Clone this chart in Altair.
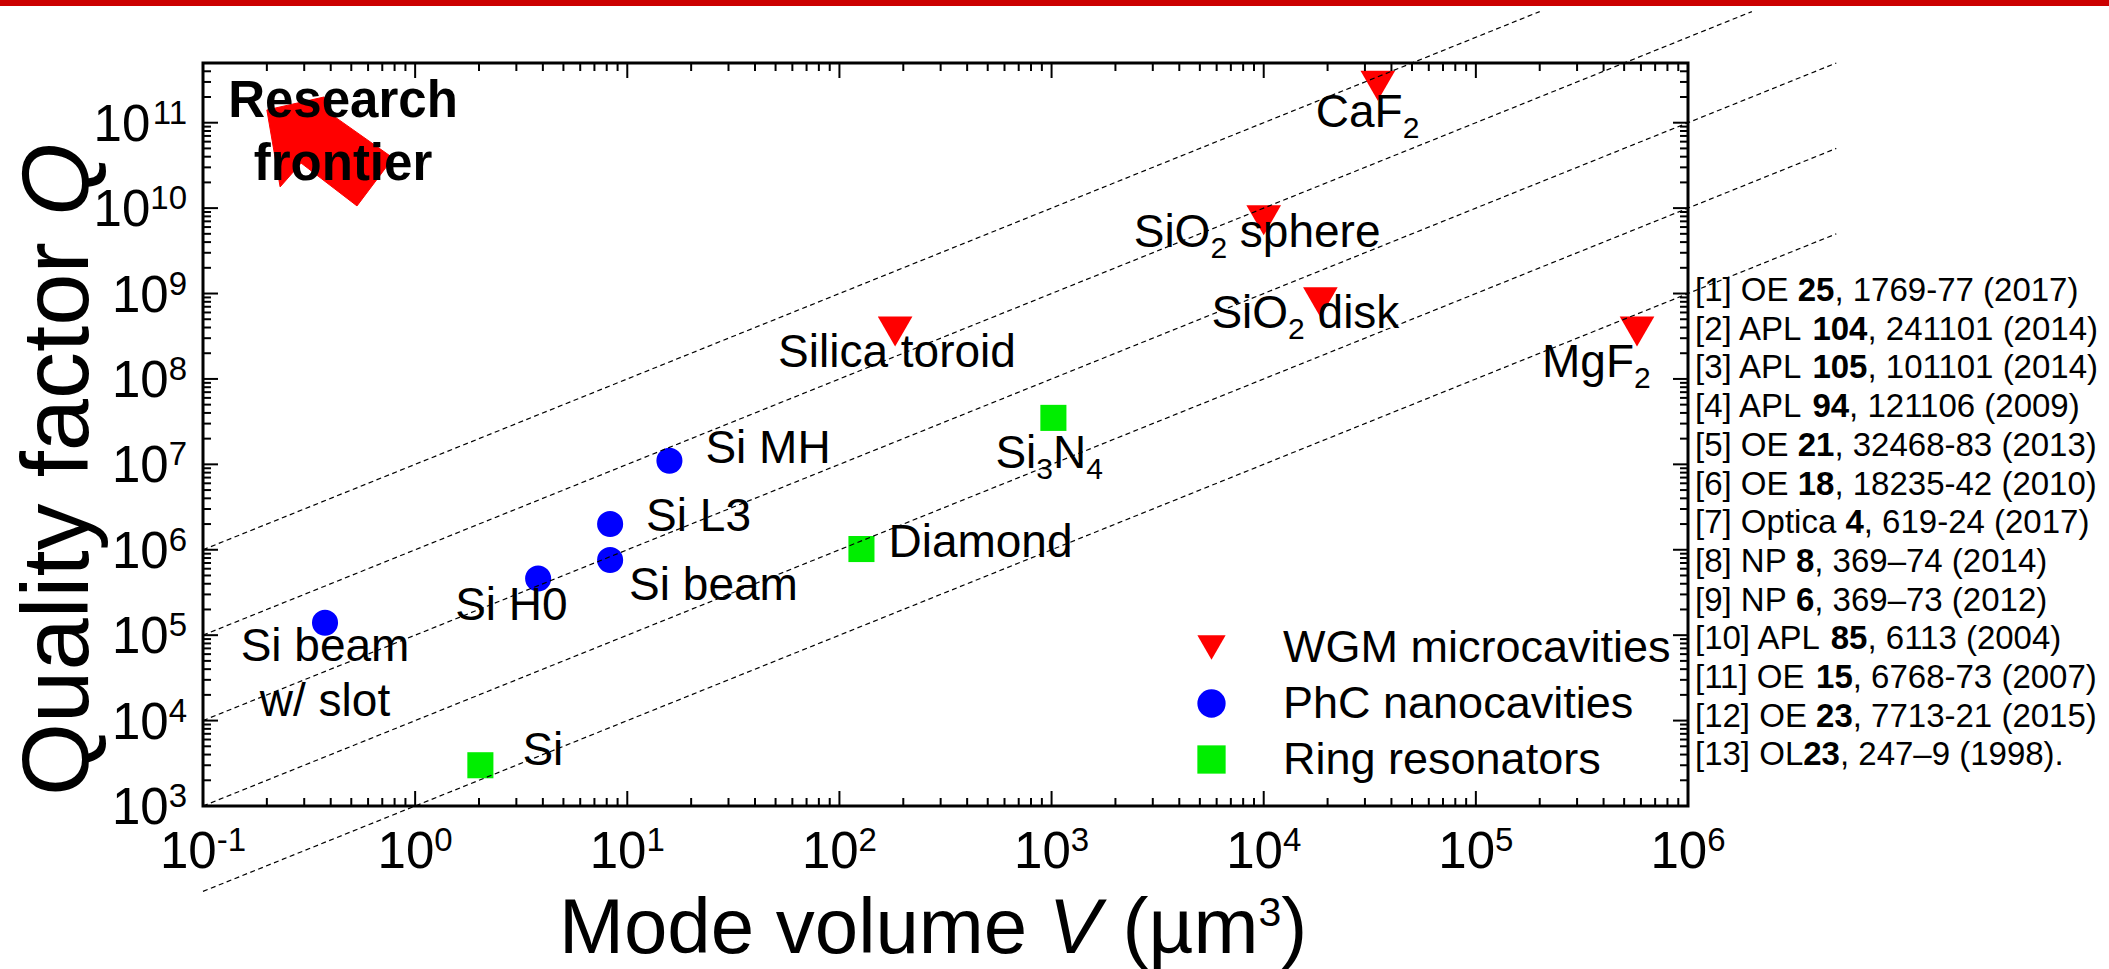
import altair as alt
import pandas as pd

FONT = "Liberation Sans"

# ---------------- data ----------------
category_names = ["WGM microcavities", "PhC nanocavities", "Ring resonators"]

wgm_names = ["CaF2", "SiO2 sphere", "SiO2 disk", "Silica toroid", "MgF2"]
wgm_volume = [3.45e4, 1.0e4, 1.85e4, 183.0, 5.75e5]
wgm_q = [2.7e11, 7.2e9, 7.9e8, 3.6e8, 3.6e8]

phc_names = ["Si MH", "Si L3", "Si beam", "Si H0", "Si beam w/ slot"]
phc_volume = [15.8, 8.3, 8.3, 3.8, 0.376]
phc_q = [1.1e7, 2.0e6, 7.6e5, 4.6e5, 1.4e5]

ring_names = ["Si3N4", "Diamond", "Si"]
ring_volume = [1020.0, 127.0, 2.03]
ring_q = [3.5e7, 1.02e6, 3.0e3]

# guide lines of constant Q/V (um^-3)
qv_ratios = [1e7, 1e6, 1e5, 1e4, 1e3]
guide_v_start = 0.1
guide_v_stop = 5e6
guide_q_stop = 2e12

# outline of the "research frontier" arrow (V, Q)
arrow_v = [0.200, 0.372, 0.401, 0.787, 0.532, 0.290, 0.231]
arrow_q = [1.41e11, 2.0e11, 1.26e11, 3.86e10, 1.06e10, 3.37e10, 1.77e10]

references = [
    ("[1] OE ", "25", ", 1769-77 (2017)"),
    ("[2] APL ", "104", ", 241101 (2014)"),
    ("[3] APL ", "105", ", 101101 (2014)"),
    ("[4] APL ", "94", ", 121106 (2009)"),
    ("[5] OE ", "21", ", 32468-83 (2013)"),
    ("[6] OE ", "18", ", 18235-42 (2010)"),
    ("[7] Optica ", "4", ", 619-24 (2017)"),
    ("[8] NP ", "8", ", 369\u201374 (2014)"),
    ("[9] NP ", "6", ", 369\u201373 (2012)"),
    ("[10] APL ", "85", ", 6113 (2004)"),
    ("[11] OE ", "15", ", 6768-73 (2007)"),
    ("[12] OE ", "23", ", 7713-21 (2015)"),
    ("[13] OL", "23", ", 247\u20139 (1998)."),
]

x_decades = list(range(-1, 7))
y_decades = list(range(3, 12))
x_domain = [0.1, 1e6]
y_domain = [1e3, 5e11]

# ---------------- text metrics (Arial / Liberation Sans advance widths) ----------------
REG = {c: 556 for c in "0123456789"}
REG.update({" ": 278, "(": 333, ")": 333, ",": 278, "-": 333, ".": 278, "/": 278,
            "[": 278, "]": 278, "\u2013": 556, "\u00b5": 576})
REG.update(dict(A=667, B=667, C=722, D=722, E=667, F=611, G=778, H=722, I=278, J=500,
                K=667, L=556, M=833, N=722, O=778, P=667, Q=778, R=722, S=667, T=611,
                U=722, V=667, W=944, X=667, Y=667, Z=611))
REG.update(dict(a=556, b=556, c=500, d=556, e=556, f=278, g=556, h=556, i=222, j=222,
                k=500, l=222, m=833, n=556, o=556, p=556, q=556, r=333, s=500, t=278,
                u=556, v=500, w=722, x=500, y=500, z=500))
BOLD = dict(REG)
BOLD.update(dict(R=722, a=556, c=556, e=556, f=333, h=611, i=278, n=611, o=611, r=389,
                 s=556, t=333))


def tw(s, size, bold=False):
    tab = BOLD if bold else REG
    return sum(tab.get(c, 556) for c in s) * size / 1000.0


def split_lead(text, size, bold=False):
    """SVG drops leading blanks, so turn them into an offset."""
    stripped = text.lstrip(" ")
    return stripped, tw(text[: len(text) - len(stripped)], size, bold)


# ---------------- layout ----------------
PW, PH = 1485, 743
PAD = {"left": 203, "top": 63, "right": 2109 - 203 - PW, "bottom": 969 - 63 - PH}

xs = alt.Scale(type="log", domain=x_domain, nice=False)
ys = alt.Scale(type="log", domain=y_domain, nice=False)
XV = alt.X("V:Q", scale=xs, axis=None)
YQ = alt.Y("Q:Q", scale=ys, axis=None)

ONE = pd.DataFrame({"a": [0]})
layers = []

# red strip along the top of the page
layers.append(alt.Chart(ONE).mark_rect(color="#cc0000").encode(
    x=alt.value(-PAD["left"]), x2=alt.value(PW + PAD["right"]),
    y=alt.value(-PAD["top"]), y2=alt.value(-PAD["top"] + 6)))

# research-frontier arrow
arrow_df = pd.DataFrame({"V": arrow_v, "Q": arrow_q, "i": range(len(arrow_v))})
layers.append(alt.Chart(arrow_df).mark_line(
    fill="#ff0000", stroke="#ff0000", strokeWidth=1, interpolate="linear-closed", fillOpacity=1
).encode(x=XV, y=YQ, order="i:Q"))

# data points
legend = alt.Legend(title=None, orient="none", legendX=986, legendY=562, labelFontSize=45,
                    labelFont=FONT, labelColor="black", rowPadding=10, labelOffset=49,
                    symbolStrokeWidth=0, padding=0, labelLimit=900, symbolSize=800,
                    symbolOpacity=1)
shape_enc = alt.Shape("kind:N", scale=alt.Scale(domain=category_names,
                      range=["triangle-down", "circle", "square"]), legend=legend)
color_enc = alt.Color("kind:N", scale=alt.Scale(domain=category_names,
                      range=["#ff0000", "#0000ff", "#00ee00"]), legend=legend)
groups = [
    (wgm_volume, wgm_q, category_names[0], 1200),
    (phc_volume, phc_q, category_names[1], 680),
    (ring_volume, ring_q, category_names[2], 680),
]
for vols, qs, kind, size in groups:
    df = pd.DataFrame({"V": vols, "Q": qs, "kind": [kind] * len(vols)})
    layers.append(alt.Chart(df).mark_point(filled=True, size=size, opacity=1, strokeWidth=0)
                  .encode(x=XV, y=YQ, shape=shape_enc, color=color_enc))

# dashed guide lines Q = ratio * V
grows = []
for c in qv_ratios:
    v_end = min(guide_v_stop, guide_q_stop / c)
    grows.append({"V": guide_v_start, "Q": c * guide_v_start, "g": str(c)})
    grows.append({"V": v_end, "Q": c * v_end, "g": str(c)})
layers.append(alt.Chart(pd.DataFrame(grows)).mark_line(
    color="black", strokeWidth=1.2, strokeDash=[5, 3.5], clip=False
).encode(x=XV, y=YQ, detail="g:N"))

# point labels: segments of (text, kind) with 'n' normal and 's' subscript
LBL, SUB, SUB_DY = 46, 30, 11
point_lookup = {}
for names, vols, qs in [(wgm_names, wgm_volume, wgm_q), (phc_names, phc_volume, phc_q),
                        (ring_names, ring_volume, ring_q)]:
    for n, v, q in zip(names, vols, qs):
        point_lookup[n] = (v, q)

label_layout = [
    ("CaF2", [("CaF", "n"), ("2", "s")], -62, 41, "left"),
    ("SiO2 sphere", [("SiO", "n"), ("2", "s"), (" sphere", "n")], -130, 27, "left"),
    ("SiO2 disk", [("SiO", "n"), ("2", "s"), (" disk", "n")], -109, 26, "left"),
    ("Silica toroid", [("Silica toroid", "n")], -117, 36, "left"),
    ("MgF2", [("MgF", "n"), ("2", "s")], -95, 46, "left"),
    ("Si MH", [("Si MH", "n")], 36, 2, "left"),
    ("Si L3", [("Si L3", "n")], 36, 7, "left"),
    ("Si beam", [("Si beam", "n")], 19, 40, "left"),
    ("Si H0", [("Si H0", "n")], -83, 41, "left"),
    ("Si beam w/ slot", [("Si beam", "n")], 0, 38, "center"),
    ("Si beam w/ slot", [("w/ slot", "n")], 0, 93, "center"),
    ("Si3N4", [("Si", "n"), ("3", "s"), ("N", "n"), ("4", "s")], -58, 50, "left"),
    ("Diamond", [("Diamond", "n")], 27, 8, "left"),
    ("Si", [("Si", "n")], 42, 0, "left"),
]
for name, segs, dx, dy, align in label_layout:
    v, q = point_lookup[name]
    df = pd.DataFrame({"V": [v], "Q": [q]})
    off = 0.0
    for text, kind in segs:
        size = LBL if kind == "n" else SUB
        shown, lead = split_lead(text, size)
        layers.append(alt.Chart(df).mark_text(
            text=shown, align=align, baseline="alphabetic", font=FONT, fontSize=size,
            color="black", dx=dx + off + lead, dy=dy + (SUB_DY if kind == "s" else 0)
        ).encode(x=XV, y=YQ))
        off += tw(text, size)

# "Research frontier" annotation
frontier_df = pd.DataFrame({"V": [0.457], "Q": [1.17e11]})
for text, dy in [("Research", 0), ("frontier", 63)]:
    layers.append(alt.Chart(frontier_df).mark_text(
        text=text, align="center", baseline="alphabetic", font=FONT, fontSize=51,
        fontWeight="bold", color="black", dy=dy).encode(x=XV, y=YQ))

# inward ticks on all four sides
MAJ, MIN = 15, 8
x_major = [10.0 ** k for k in x_decades]
x_minor = [m * 10.0 ** k for k in x_decades[:-1] for m in range(2, 10)]
y_major = [10.0 ** k for k in y_decades]
y_minor = [m * 10.0 ** k for k in y_decades for m in range(2, 10) if m * 10.0 ** k < y_domain[1]]
for vals, ln in [(x_major, MAJ), (x_minor, MIN)]:
    df = pd.DataFrame({"V": vals})
    layers.append(alt.Chart(df).mark_rule(color="black", strokeWidth=2).encode(
        x=XV, y=alt.value(PH), y2=alt.value(PH - ln)))
    layers.append(alt.Chart(df).mark_rule(color="black", strokeWidth=2).encode(
        x=XV, y=alt.value(0), y2=alt.value(ln)))
for vals, ln in [(y_major, MAJ), (y_minor, MIN)]:
    df = pd.DataFrame({"Q": vals})
    layers.append(alt.Chart(df).mark_rule(color="black", strokeWidth=2).encode(
        y=YQ, x=alt.value(0), x2=alt.value(ln)))
    layers.append(alt.Chart(df).mark_rule(color="black", strokeWidth=2).encode(
        y=YQ, x=alt.value(PW), x2=alt.value(PW - ln)))

# tick labels 10^n
TB, TS, SUP_RISE = 51, 33, 17
for k in x_decades:
    e = str(k)
    total = tw("10", TB) + tw(e, TS)
    df = pd.DataFrame({"V": [10.0 ** k]})
    layers.append(alt.Chart(df).mark_text(
        text="10", align="left", baseline="alphabetic", font=FONT, fontSize=TB,
        color="black", dx=-total / 2).encode(x=XV, y=alt.value(PH + 62)))
    layers.append(alt.Chart(df).mark_text(
        text=e, align="left", baseline="alphabetic", font=FONT, fontSize=TS,
        color="black", dx=-total / 2 + tw("10", TB)).encode(x=XV, y=alt.value(PH + 62 - SUP_RISE)))
for k in y_decades:
    e = str(k)
    df = pd.DataFrame({"Q": [10.0 ** k]})
    layers.append(alt.Chart(df).mark_text(
        text=e, align="right", baseline="alphabetic", font=FONT, fontSize=TS,
        color="black", dy=18 - SUP_RISE).encode(y=YQ, x=alt.value(-16)))
    layers.append(alt.Chart(df).mark_text(
        text="10", align="right", baseline="alphabetic", font=FONT, fontSize=TB,
        color="black", dy=18).encode(y=YQ, x=alt.value(-16 - tw(e, TS))))

# axis titles
TT = 78
x_title = [("Mode volume ", "normal", TT, 0), ("V", "italic", TT, 0), (" (\u00b5m", "normal", TT, 0),
           ("3", "normal", 41, -27), (")", "normal", TT, 0)]
off = 0.0
for text, style, size, rise in x_title:
    shown, lead = split_lead(text, size)
    layers.append(alt.Chart(ONE).mark_text(
        text=shown, align="left", baseline="alphabetic", font=FONT, fontSize=size,
        fontStyle=style, color="black", dx=off + lead, dy=rise
    ).encode(x=alt.value(356), y=alt.value(890)))
    off += tw(text, size)

TY = 94
y_title = [("Quality factor ", "normal"), ("Q", "italic")]
off = 0.0
for text, style in y_title:
    layers.append(alt.Chart(ONE).mark_text(
        text=text, align="left", baseline="alphabetic", font=FONT, fontSize=TY,
        fontStyle=style, color="black", angle=270, dx=off).encode(x=alt.value(-115), y=alt.value(733)))
    off += tw(text, TY)

# reference list to the right of the plot
RF, RX, RY0, RDY = 33, PW + 7, 238, 38.7
for i, (pre, vol, post) in enumerate(references):
    x0 = 0.0
    for text, bold in [(pre, False), (vol, True), (post, False)]:
        shown, lead = split_lead(text, RF, bold)
        layers.append(alt.Chart(ONE).mark_text(
            text=shown, align="left", baseline="alphabetic", font=FONT, fontSize=RF,
            fontWeight="bold" if bold else "normal", color="black", dx=x0 + lead
        ).encode(x=alt.value(RX), y=alt.value(RY0 + i * RDY)))
        x0 += tw(text, RF, bold)

chart = alt.layer(*layers).properties(
    width=PW, height=PH, padding=PAD, autosize=alt.AutoSizeParams(type="none"),
    background="white",
).configure_view(stroke="black", strokeWidth=3)

chart.save("out.html", embed_options={"renderer": "svg", "actions": False})
